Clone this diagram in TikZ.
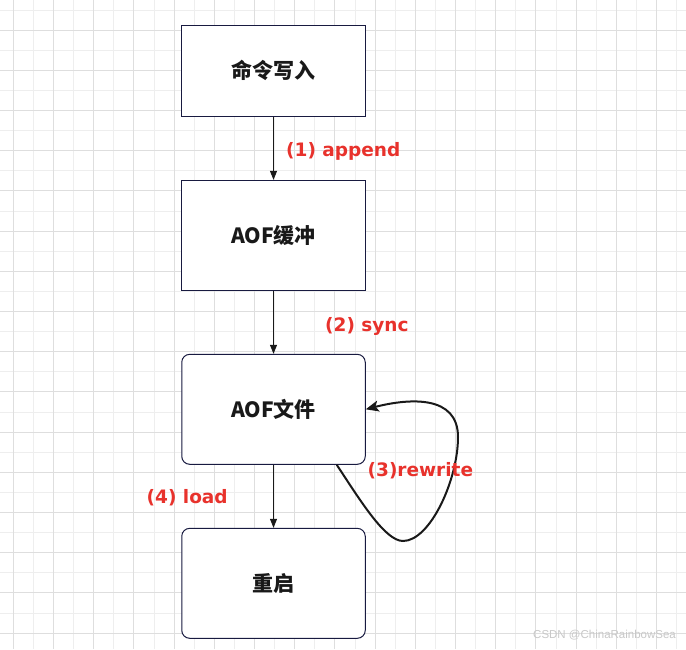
\documentclass[tikz,border=0pt]{standalone}
\usepackage{fontspec}
\newfontfamily\cjk{Noto Sans CJK SC}
\newfontfamily\lab{DejaVu Sans}
\newfontfamily\wm{Liberation Sans}
\usetikzlibrary{arrows.meta,calc}
\definecolor{redlab}{RGB}{232,50,44}
\definecolor{boxline}{RGB}{24,26,64}
\definecolor{gridminor}{RGB}{238,238,238}
\definecolor{gridmajor}{RGB}{222,222,222}
\definecolor{wmgray}{RGB}{200,200,200}
\begin{document}
\begin{tikzpicture}[x=1pt,y=-1pt,
  box/.style={draw=boxline, line width=1pt, fill=white, minimum width=183.5pt, inner sep=0pt,
    font=\cjk\bfseries\fontsize{21}{25}\selectfont, text=black!90},
  roundbox/.style={box, rounded corners=8pt},
  flow/.style={draw=black!90, line width=1pt, -{Triangle[length=9pt,width=7pt]}},
  loopline/.style={draw=black!90, line width=2pt, -{Stealth[length=13pt,width=11pt,inset=3pt]}},
  lbl/.style={anchor=base west, inner sep=0pt, text=redlab, font=\lab\bfseries\fontsize{18.5}{22}\selectfont},
  minorgrid/.style={draw=gridminor, line width=1pt},
  majorgrid/.style={draw=gridmajor, line width=1pt},
]
\fill[white] (0,0) rectangle (686,649);
\useasboundingbox (0,0) rectangle (686,649);
% grid
\foreach \i in {0,...,33} {\draw[minorgrid] ({13.3+20.1*\i},0) -- ({13.3+20.1*\i},649);}
\foreach \j in {0,...,31} {\draw[minorgrid] (0,{10+20.1*\j}) -- (686,{10+20.1*\j});}
\foreach \i in {0,2,...,32} {\draw[majorgrid] ({13.3+20.1*\i},0) -- ({13.3+20.1*\i},649);}
\foreach \j in {1,3,...,31} {\draw[majorgrid] (0,{10+20.1*\j}) -- (686,{10+20.1*\j});}

% boxes
\node[box, minimum height=90.7pt] (cmd) at (273.5,70.7) {命令写入};
\node[box, minimum height=109.7pt] (buf) at (273.5,235.2) {AOF缓冲};
\node[roundbox, minimum height=110pt] (file) at (273.5,409.3) {AOF文件};
\node[roundbox, minimum height=110pt] (rst) at (273.5,583.3) {重启};

% connectors
\draw[flow] (cmd.south) -- (buf.north);
\draw[flow] (buf.south) -- (file.north);
\draw[flow] (file.south) -- (rst.north);
\draw[loopline] ($(file.south east)+(-29,0)$) .. controls (360,500) and (385,541) .. (403,541)
  .. controls (430,541) and (458,480) .. (458,437)
  .. controls (458,395) and (410,398) .. (file.east);

% labels
\node[lbl] (l1) at (286,156) {(1) append};
\node[lbl] (l2) at (325,331.7) {(2) sync};
\node[lbl] (l3) at (367.5,476.7) {(3)rewrite};
\node[lbl] (l4) at (146.5,503.3) {(4) load};

\node[anchor=base west, inner sep=0pt, text=wmgray, font=\wm\fontsize{11.5}{14}\selectfont] (wm) at (533,638) {CSDN @ChinaRainbowSea};
\end{tikzpicture}
\end{document}
